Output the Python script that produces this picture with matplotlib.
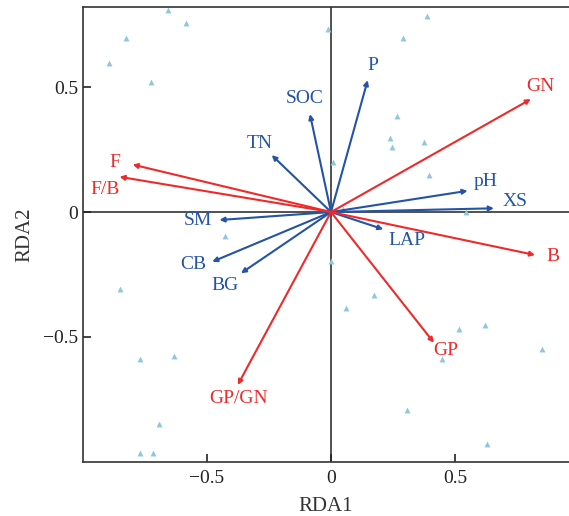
import matplotlib
matplotlib.use('Agg')
import matplotlib.pyplot as plt

plt.rcParams['font.family'] = ['Liberation Serif', 'DejaVu Serif']

# sample scores (triangles)
site_x = [-0.659, -0.586, -0.827, -0.896, -0.726, -0.011, 0.386, 0.292, 0.265, 0.238,
          0.246, 0.376, 0.007, 0.396, 0.05, 0.544, -0.429, -0.851, -0.77, -0.632,
          -0.695, -0.77, -0.716, 0.0, 0.175, 0.062, 0.516, 0.621, 0.852, 0.448,
          0.308, 0.628]
site_y = [0.808, 0.757, 0.697, 0.597, 0.519, 0.732, 0.785, 0.695, 0.384, 0.297,
          0.26, 0.28, 0.201, 0.148, 0.011, 0.001, -0.095, -0.308, -0.588, -0.577,
          -0.848, -0.965, -0.965, -0.196, -0.331, -0.385, -0.468, -0.451, -0.548, -0.588,
          -0.792, -0.929]

# response variables (red)
resp_names = ['F', 'F/B', 'GN', 'B', 'GP', 'GP/GN']
resp_x = [-0.80, -0.853, 0.806, 0.823, 0.415, -0.376]
resp_y = [0.19, 0.141, 0.452, -0.172, -0.523, -0.692]
resp_lx = [-0.871, -0.911, 0.846, 0.896, 0.464, -0.374]
resp_ly = [0.197, 0.091, 0.504, -0.179, -0.555, -0.748]

# environmental variables (blue)
env_names = ['TN', 'SOC', 'SM', 'P', 'pH', 'XS', 'CB', 'BG', 'LAP']
env_x = [-0.239, -0.085, -0.45, 0.148, 0.551, 0.657, -0.479, -0.363, 0.211]
env_y = [0.228, 0.392, -0.032, 0.528, 0.085, 0.015, -0.199, -0.245, -0.069]
env_lx = [-0.286, -0.108, -0.535, 0.168, 0.624, 0.742, -0.555, -0.426, 0.305]
env_ly = [0.275, 0.455, -0.035, 0.588, 0.121, 0.041, -0.212, -0.296, -0.112]

red = '#ee2a2a'
blue = '#2354a6'

fig = plt.figure(figsize=(5.69, 5.16), dpi=100)
ax = fig.add_axes([0.146, 0.105, 0.854, 0.881])

ax.axhline(0, color='#333333', lw=1.2, zorder=1)
ax.axvline(0, color='#333333', lw=1.2, zorder=1)

ax.scatter(site_x, site_y, marker='^', s=18, color='#8ec8dc', linewidths=0, zorder=2)

for x, y in zip(env_x, env_y):
    ax.annotate('', xy=(x, y), xytext=(0, 0),
                arrowprops=dict(arrowstyle='-|>', color=blue, lw=1.5,
                                mutation_scale=7, shrinkA=0, shrinkB=0), zorder=3)
for n, x, y in zip(env_names, env_lx, env_ly):
    ax.text(x, y, n, color=blue, fontsize=14, ha='center', va='center')

for x, y in zip(resp_x, resp_y):
    ax.annotate('', xy=(x, y), xytext=(0, 0),
                arrowprops=dict(arrowstyle='-|>', color=red, lw=1.5,
                                mutation_scale=7, shrinkA=0, shrinkB=0), zorder=4)
for n, x, y in zip(resp_names, resp_lx, resp_ly):
    ax.text(x, y, n, color=red, fontsize=14, ha='center', va='center')

ax.set_xlim(-1.0, 0.96)
ax.set_ylim(-1.0, 0.82)
ax.set_xticks([-0.5, 0, 0.5])
ax.set_xticklabels(['\u22120.5', '0', '0.5'])
ax.set_yticks([-0.5, 0, 0.5])
ax.set_yticklabels(['\u22120.5', '0', '0.5'])
ax.tick_params(direction='in', length=6, width=1.2, labelsize=14, colors='#222222')
ax.tick_params(axis='x', pad=6)
ax.spines['right'].set_visible(False)
for s in ['top', 'left', 'bottom']:
    ax.spines[s].set_color('#333333')
    ax.spines[s].set_linewidth(1.2)

ax.set_xlabel('RDA1', fontsize=15, color='#333333', labelpad=7)
ax.set_ylabel('RDA2', fontsize=15, color='#333333', labelpad=6)

fig.savefig('out.png', dpi=100)
